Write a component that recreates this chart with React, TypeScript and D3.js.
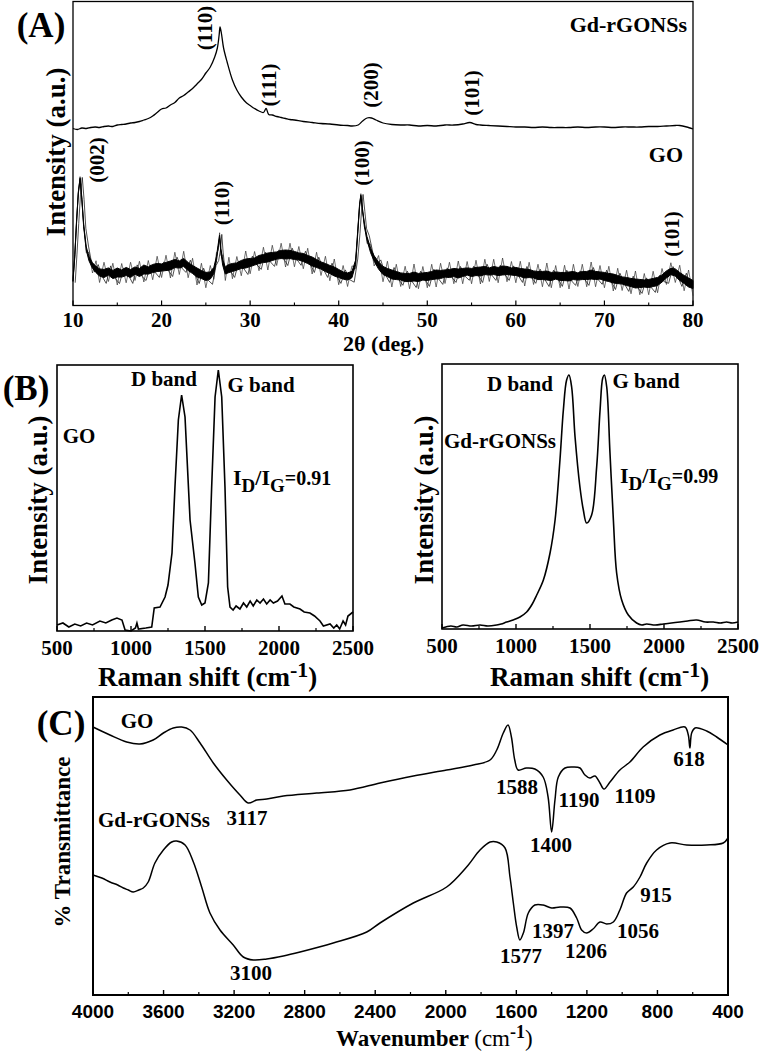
import React from 'react';
import * as d3 from 'd3';

// ---------- Panel A: XRD (2θ in degrees, intensity a.u.) ----------
const xrdTicks = [10, 20, 30, 40, 50, 60, 70, 80];
const xrdMinor = [15, 25, 35, 45, 55, 65, 75];
const xrdGd: [number, number][] = [
  [10, 177], [10.5, 176], [11, 177.5], [11.5, 177], [12, 178], [12.5, 178.5], [13, 178], [13.5, 179],
  [14, 179.5], [14.5, 179], [15, 180.5], [15.5, 181], [16, 181.5], [16.5, 182.5], [17, 183], [17.5, 184],
  [18, 185.5], [18.5, 187], [19, 189.5], [19.5, 193], [20, 196.5], [20.5, 197.5], [21, 200.5], [21.5, 203],
  [22, 207.5], [22.5, 210], [23, 213.5], [23.5, 217], [24, 221.5], [24.5, 226], [25, 232.5], [25.5, 238.5],
  [26, 248.5], [26.3, 257.5], [26.5, 270.5], [26.6, 278.5], [26.75, 272.5], [27, 257.5], [27.4, 243.5],
  [28, 225.5], [28.5, 215.5], [29, 208.5], [29.6, 202.5], [30, 200], [30.5, 197], [31, 194.5], [31.5, 193],
  [31.8, 197], [32.1, 191], [32.5, 190.5], [33, 189], [33.5, 188], [34, 187], [34.5, 186], [35, 185.5],
  [36, 184], [37, 183], [38, 182], [39, 181.5], [40, 180.5], [41, 180], [41.5, 179.5], [42.2, 180.5],
  [42.7, 184.5], [43.2, 187.5], [43.7, 187.5], [44.2, 185.5], [45, 182.5], [46, 181], [47, 180.5],
  [48, 180.5], [49, 179.5], [50, 180], [51, 179.5], [52, 180.5], [53, 180.5], [54, 181.5], [54.8, 183],
  [55.5, 181], [56, 180.5], [57, 180], [58, 179.5], [59, 179], [60, 178.5], [61, 178.5], [62, 178],
  [63, 178.5], [64, 178], [65, 178], [66, 178], [67, 178.5], [68, 178], [69, 178.5], [70, 178.5],
  [71, 178], [72, 178.5], [73, 178.5], [74, 178.5], [75, 179], [76, 179], [77, 179.5], [78, 180],
  [78.5, 180], [79.3, 178.5], [80, 176.5],
];
// [2θ, mean intensity, noise half-width]
const xrdGo: [number, number, number][] = [
  [10, 25, 2], [10.2, 50, 2], [10.4, 83, 2], [10.6, 113, 1.5], [10.8, 127, 1.5], [11, 107, 2], [11.2, 80, 2.5],
  [11.5, 57, 3.5], [11.8, 47, 5], [12.2, 40, 6], [12.6, 36, 7], [13, 33, 8], [13.5, 32, 9], [14, 34, 8],
  [14.5, 31, 9], [15, 33, 10], [15.5, 32, 8], [16, 34, 9], [16.5, 32, 9], [17, 35, 8], [17.5, 33, 9],
  [18, 36, 10], [18.5, 35, 8], [19, 37, 9], [19.5, 38, 9], [20, 38, 8], [20.5, 39, 9], [21, 40, 10],
  [21.5, 42, 9], [22, 41, 8], [22.5, 43, 9], [23, 39, 9], [23.5, 36, 9], [24, 33, 10], [24.5, 31, 9],
  [25, 29, 9], [25.5, 30, 8], [25.9, 35, 7], [26.2, 47, 5], [26.4, 60, 4], [26.55, 69, 3], [26.7, 55, 4],
  [26.9, 43, 6], [27.2, 35, 8], [27.6, 37, 9], [28, 38, 9], [28.5, 39, 8], [29, 41, 9], [29.5, 42, 10],
  [30, 43, 9], [30.5, 44, 8], [31, 46, 9], [31.5, 47, 9], [32, 48, 10], [32.5, 49, 9], [33, 50, 8],
  [33.5, 51, 9], [34, 51, 10], [34.5, 51, 9], [35, 50, 9], [35.5, 49, 8], [36, 48, 9], [36.5, 46, 9],
  [37, 44, 10], [37.5, 42, 9], [38, 40, 8], [38.5, 38, 9], [39, 36, 9], [39.5, 34, 10], [40, 32, 9],
  [40.5, 30, 8], [41, 29, 8], [41.5, 31, 7], [41.9, 43, 5], [42.15, 73, 3], [42.35, 100, 2], [42.5, 110, 1.5],
  [42.7, 95, 2], [42.9, 80, 3], [43.2, 67, 4], [43.6, 55, 5], [44, 47, 6], [44.5, 40, 8], [45, 35, 9],
  [45.5, 33, 9], [46, 31, 10], [46.5, 30, 9], [47, 29, 8], [47.5, 28, 9], [48, 28, 9], [48.5, 29, 10],
  [49, 28, 9], [49.5, 29, 8], [50, 29, 9], [50.5, 30, 9], [51, 31, 10], [51.5, 31, 9], [52, 32, 8],
  [52.5, 32, 9], [53, 33, 9], [53.5, 32, 10], [54, 33, 9], [54.5, 34, 8], [55, 33, 9], [55.5, 34, 9],
  [56, 34, 10], [56.5, 35, 9], [57, 34, 8], [57.5, 35, 9], [58, 34, 9], [58.5, 35, 10], [59, 35, 9],
  [59.5, 34, 8], [60, 34, 9], [60.5, 33, 9], [61, 32, 10], [61.5, 32, 9], [62, 31, 8], [62.5, 30, 9],
  [63, 30, 9], [63.5, 30, 10], [64, 29, 9], [64.5, 30, 8], [65, 29, 9], [65.5, 29, 9], [66, 29, 10],
  [66.5, 30, 9], [67, 29, 8], [67.5, 30, 9], [68, 30, 9], [68.5, 31, 10], [69, 30, 9], [69.5, 30, 8],
  [70, 29, 9], [70.5, 28, 9], [71, 27, 10], [71.5, 26, 9], [72, 25, 8], [72.5, 24, 9], [73, 23, 9],
  [73.5, 22, 10], [74, 22, 9], [74.5, 22, 8], [75, 22, 9], [75.5, 23, 9], [76, 24, 9], [76.5, 27, 8],
  [77, 31, 8], [77.5, 34, 7], [78, 33, 8], [78.5, 29, 9], [79, 26, 9], [79.5, 23, 10], [80, 21, 9],
];
const xrdPeakLabels = ['(110)', '(111)', '(200)', '(101)', '(002)', '(110)', '(100)', '(101)'];

// ---------- Panel B: Raman (cm-1, intensity a.u.) ----------
const ramanTicks = [500, 1000, 1500, 2000, 2500];
const ramanMinor = [750, 1250, 1750, 2250];
const ramanGo: [number, number][] = [
  [500, 6], [540, 8], [580, 4], [620, 7], [660, 5], [700, 8], [740, 6], [790, 10], [830, 8], [870, 11],
  [905, 13], [939, 11], [960, 1], [1000, 0], [1030, 3], [1040, 8], [1050, 2], [1100, 3], [1140, 4],
  [1157, 23], [1196, 24], [1230, 34], [1250, 46], [1277, 78], [1297, 144], [1320, 211], [1342, 236],
  [1365, 214], [1399, 111], [1432, 68], [1455, 34], [1478, 26], [1500, 28], [1523, 48], [1545, 144],
  [1568, 234], [1590, 261], [1613, 234], [1635, 144], [1653, 44], [1669, 24], [1690, 21], [1710, 25],
  [1736, 22], [1760, 28], [1782, 24], [1805, 30], [1826, 25], [1850, 31], [1872, 28], [1895, 32],
  [1917, 27], [1940, 31], [1962, 28], [1990, 30], [2020, 35], [2040, 27], [2074, 27], [2100, 24],
  [2142, 22], [2170, 19], [2209, 18], [2240, 15], [2277, 10], [2300, 5], [2345, 7], [2370, 3],
  [2390, 6], [2410, 2], [2433, 10], [2450, 6], [2466, 15], [2500, 19],
];
const ramanGd: [number, number][] = [
  [500, 1], [560, 3], [600, 2], [642, 4], [700, 3], [757, 4], [810, 3], [870, 4], [900, 5], [937, 7],
  [980, 9], [1027, 12], [1072, 17], [1110, 25], [1140, 34], [1185, 49], [1230, 76], [1264, 109],
  [1297, 169], [1320, 219], [1342, 249], [1358, 254], [1376, 242], [1399, 192], [1432, 142], [1455, 119],
  [1477, 106], [1511, 114], [1545, 162], [1568, 219], [1586, 251], [1597, 254], [1613, 242], [1635, 176],
  [1658, 109], [1680, 56], [1714, 29], [1759, 14], [1815, 6], [1850, 4], [1882, 5], [1940, 4], [1995, 5],
  [2050, 6], [2108, 7], [2160, 8], [2220, 9], [2280, 7], [2333, 7], [2380, 6], [2423, 7], [2460, 6],
  [2500, 7],
];

// ---------- Panel C: FTIR (wavenumber cm-1, transmittance a.u.) ----------
const ftirTicks = [4000, 3600, 3200, 2800, 2400, 2000, 1600, 1200, 800, 400];
const ftirMinor = [3800, 3400, 3000, 2600, 2200, 1800, 1400, 1000, 600];
const ftirGo: [number, number][] = [
  [4000, 268], [3904, 260], [3809, 253], [3734, 251], [3659, 255], [3601, 262], [3545, 267], [3497, 268],
  [3450, 265], [3393, 252], [3318, 232], [3242, 215], [3167, 200], [3120, 192], [3072, 195], [3015, 196],
  [2921, 199], [2732, 202], [2543, 205], [2373, 212], [2184, 219], [1995, 225], [1844, 230], [1749, 235],
  [1711, 245], [1674, 262], [1647, 270], [1628, 258], [1609, 235], [1590, 225], [1543, 227], [1495, 226],
  [1448, 218], [1420, 198], [1400, 163], [1381, 195], [1362, 218], [1324, 227], [1277, 228], [1239, 227],
  [1211, 220], [1183, 217], [1154, 219], [1126, 212], [1103, 206], [1069, 213], [1013, 225], [956, 233],
  [881, 248], [786, 260], [711, 265], [644, 268], [625, 260], [616, 247], [606, 262], [587, 267],
  [521, 264], [464, 258], [400, 250],
];
const ftirGd: [number, number][] = [
  [4000, 120], [3950, 117], [3904, 113], [3860, 110], [3828, 107], [3800, 105], [3772, 103], [3740, 105],
  [3715, 107], [3687, 113], [3649, 132], [3601, 145], [3554, 153], [3526, 154], [3478, 150], [3431, 133],
  [3384, 108], [3337, 82], [3280, 65], [3205, 50], [3148, 38], [3091, 35], [3015, 36], [2921, 39],
  [2826, 43], [2638, 52], [2448, 63], [2373, 72], [2184, 92], [1995, 108], [1882, 128], [1806, 145],
  [1749, 153], [1711, 153], [1664, 147], [1636, 118], [1617, 92], [1598, 68], [1580, 55], [1560, 62],
  [1532, 82], [1495, 90], [1448, 90], [1400, 87], [1352, 88], [1296, 87], [1258, 77], [1230, 65],
  [1202, 62], [1165, 66], [1126, 73], [1088, 71], [1050, 73], [1013, 85], [975, 102], [937, 108],
  [899, 118], [861, 132], [805, 145], [729, 152], [635, 150], [521, 150], [427, 152], [400, 157],
];
const ftirGoLabels = ['3117', '1588', '1190', '1109', '1400', '618'];
const ftirGdLabels = ['3100', '1577', '1397', '1206', '1056', '915'];

const SERIF = "'Liberation Serif','Times New Roman',serif";
const SANS = "'Liberation Sans',Arial,sans-serif";

export default function App() {
  // scales
  const xA = d3.scaleLinear().domain([10, 80]).range([73, 693]);
  const yA = d3.scaleLinear().domain([0, 304]).range([305.5, 1.5]);
  const xBL = d3.scaleLinear().domain([500, 2500]).range([57, 353]);
  const yBL = d3.scaleLinear().domain([0, 266]).range([631, 365]);
  const xBR = d3.scaleLinear().domain([500, 2500]).range([442, 738]);
  const yBR = d3.scaleLinear().domain([0, 265]).range([629, 364]);
  const xC = d3.scaleLinear().domain([4000, 400]).range([93, 728]);
  const yC = d3.scaleLinear().domain([0, 298]).range([995, 697]);

  const lineA = d3.line<[number, number]>().x(d => xA(d[0])).y(d => yA(d[1])).curve(d3.curveCatmullRom);
  const goCore = d3.area<[number, number, number]>()
    .x(d => xA(d[0])).y0(d => yA(d[1] - d[2] * 0.45)).y1(d => yA(d[1] + d[2] * 0.45)).curve(d3.curveLinear);
  const goZig = xrdGo.map((d, i) => [xA(d[0]), yA(d[1] + (i % 2 === 0 ? 1 : -1) * d[2] * 1.25)] as [number, number]);
  const goZig2 = xrdGo.map((d, i) => [xA(d[0]) + 2.2, yA(d[1] + (i % 3 === 0 ? -1.1 : i % 3 === 1 ? 0.7 : -0.4) * d[2])] as [number, number]);
  const zigPath = d3.line()(goZig) || '';
  const zigPath2 = d3.line()(goZig2.slice(0, -1)) || '';

  const lineBL = d3.line<[number, number]>().x(d => xBL(d[0])).y(d => yBL(d[1]));
  const lineBR = d3.line<[number, number]>().x(d => xBR(d[0])).y(d => yBR(d[1])).curve(d3.curveCatmullRom);
  const lineC = d3.line<[number, number]>().x(d => xC(d[0])).y(d => yC(d[1])).curve(d3.curveCatmullRom);

  const bold = { fontFamily: SERIF, fontWeight: 'bold' as const };

  const rot = (x: number, y: number, t: string, size: number, key?: string | number) => (
    <text key={key} transform={`translate(${x},${y}) rotate(-90)`} textAnchor="middle"
      dominantBaseline="central" fontSize={size} {...bold}>{t}</text>
  );

  const xrdLabelPos = [[205, 28], [269, 85], [371, 85], [472, 93], [97, 160], [222, 203], [362, 163], [672, 234]];
  const ftirGoPos = [[247, 825], [517, 794], [579, 807], [635, 803], [551, 852], [689, 766]];
  const ftirGdPos = [[251, 980], [521, 963], [553, 938], [586, 958], [638, 938], [656, 902]];

  const ramanPanel = (xs: d3.ScaleLinear<number, number>, y0: number, y1: number, key: string) => (
    <g key={key}>
      <rect x={xs(500)} y={y0} width={xs(2500) - xs(500)} height={y1 - y0} fill="none" stroke="#000" strokeWidth={1.6} />
      {ramanTicks.map(t => <line key={t} x1={xs(t)} x2={xs(t)} y1={y1} y2={y1 - 5} stroke="#000" strokeWidth={1.4} />)}
      {ramanMinor.map(t => <line key={t} x1={xs(t)} x2={xs(t)} y1={y1} y2={y1 - 3} stroke="#000" strokeWidth={1.2} />)}
      {ramanTicks.map(t => <text key={t} x={xs(t)} y={y1 + 24} textAnchor="middle" fontSize={21} {...bold}>{t}</text>)}
    </g>
  );

  return (
    <svg width={760} height={1051} style={{ position: 'absolute', left: 0, top: 0, background: '#fff' }}>
      <rect x={0} y={0} width={760} height={1051} fill="#fff" />

      {/* ================= Panel A ================= */}
      <rect x={73} y={1.5} width={620} height={304} fill="none" stroke="#000" strokeWidth={1.3} />
      {xrdTicks.map(t => <line key={t} x1={xA(t)} x2={xA(t)} y1={305.5} y2={300.5} stroke="#000" strokeWidth={1.2} />)}
      {xrdMinor.map(t => <line key={t} x1={xA(t)} x2={xA(t)} y1={305.5} y2={302.5} stroke="#000" strokeWidth={1.1} />)}
      {xrdTicks.map(t => <text key={t} x={xA(t)} y={327} textAnchor="middle" fontSize={21} {...bold}>{t}</text>)}
      <text x={343} y={351} fontSize={22} {...bold}>2θ (deg.)</text>
      {rot(56, 152, 'Intensity (a.u.)', 27)}
      <text x={41} y={37} textAnchor="middle" fontSize={35} {...bold}>(A)</text>

      <path d={zigPath} fill="none" stroke="#333" strokeWidth={0.7} />
      <path d={zigPath2} fill="none" stroke="#222" strokeWidth={0.8} />
      <path d={goCore(xrdGo) || ''} fill="#000" stroke="#000" strokeWidth={1} />
      <path d={lineA(xrdGd) || ''} fill="none" stroke="#000" strokeWidth={1.3} />

      {xrdPeakLabels.map((t, i) => rot(xrdLabelPos[i][0], xrdLabelPos[i][1], t, 21, 'xl' + i))}
      <text x={687} y={32} textAnchor="end" fontSize={22} {...bold}>Gd-rGONSs</text>
      <text x={683} y={162} textAnchor="end" fontSize={22} {...bold}>GO</text>

      {/* ================= Panel B ================= */}
      {ramanPanel(xBL, 365, 631, 'bl')}
      {ramanPanel(xBR, 364, 629, 'br')}
      <path d={lineBL(ramanGo) || ''} fill="none" stroke="#000" strokeWidth={1.6} />
      <path d={lineBR(ramanGd) || ''} fill="none" stroke="#000" strokeWidth={1.6} />
      <text x={26} y={400} textAnchor="middle" fontSize={35} {...bold}>(B)</text>
      {rot(38, 500, 'Intensity (a.u.)', 27)}
      {rot(424, 500, 'Intensity (a.u.)', 27)}
      {[98, 490].map(x0 => (
        <text key={x0} x={x0} y={686} fontSize={27} {...bold}>Raman shift (cm<tspan dy={-9} fontSize={22}>-1</tspan><tspan dy={9}>)</tspan></text>
      ))}
      <text x={164} y={386} textAnchor="middle" fontSize={21} {...bold}>D band</text>
      <text x={261} y={392} textAnchor="middle" fontSize={21} {...bold}>G band</text>
      <text x={79} y={443} textAnchor="middle" fontSize={21} {...bold}>GO</text>
      <text x={233} y={485} fontSize={22} {...bold}>I<tspan dy={7} fontSize={19}>D</tspan><tspan dy={-7}>/I</tspan><tspan dy={7} fontSize={19}>G</tspan><tspan dy={-7} fontSize={20}>=0.91</tspan></text>
      <text x={520} y={391} textAnchor="middle" fontSize={21} {...bold}>D band</text>
      <text x={646} y={388} textAnchor="middle" fontSize={21} {...bold}>G band</text>
      <text x={500} y={448} textAnchor="middle" fontSize={21} {...bold}>Gd-rGONSs</text>
      <text x={620} y={483} fontSize={22} {...bold}>I<tspan dy={7} fontSize={19}>D</tspan><tspan dy={-7}>/I</tspan><tspan dy={7} fontSize={19}>G</tspan><tspan dy={-7} fontSize={20}>=0.99</tspan></text>

      {/* ================= Panel C ================= */}
      <rect x={93} y={697} width={635} height={298} fill="none" stroke="#000" strokeWidth={2} />
      {ftirTicks.map(t => <line key={t} x1={xC(t)} x2={xC(t)} y1={995} y2={990} stroke="#000" strokeWidth={1.4} />)}
      {ftirMinor.map(t => <line key={t} x1={xC(t)} x2={xC(t)} y1={995} y2={992} stroke="#000" strokeWidth={1.2} />)}
      {ftirTicks.map(t => <text key={t} x={xC(t)} y={1018} textAnchor="middle" fontSize={19} fontFamily={SANS} fontWeight="bold">{t}</text>)}
      <text x={336} y={1046} fontSize={23} {...bold}>Wavenumber <tspan fontWeight="normal">(cm</tspan><tspan dy={-8} fontSize={18}>-1</tspan><tspan dy={8} fontWeight="normal">)</tspan></text>
      {rot(62, 842, '% Transmittance', 23)}
      <text x={61} y={735} textAnchor="middle" fontSize={35} {...bold}>(C)</text>
      <path d={lineC(ftirGo) || ''} fill="none" stroke="#000" strokeWidth={1.5} />
      <path d={lineC(ftirGd) || ''} fill="none" stroke="#000" strokeWidth={1.5} />
      <text x={137} y={728} textAnchor="middle" fontSize={21} {...bold}>GO</text>
      <text x={154} y={827} textAnchor="middle" fontSize={21} {...bold}>Gd-rGONSs</text>
      {ftirGoLabels.map((t, i) => <text key={'g' + i} x={ftirGoPos[i][0]} y={ftirGoPos[i][1]} textAnchor="middle" fontSize={21} {...bold}>{t}</text>)}
      {ftirGdLabels.map((t, i) => <text key={'d' + i} x={ftirGdPos[i][0]} y={ftirGdPos[i][1]} textAnchor="middle" fontSize={21} {...bold}>{t}</text>)}
    </svg>
  );
}
